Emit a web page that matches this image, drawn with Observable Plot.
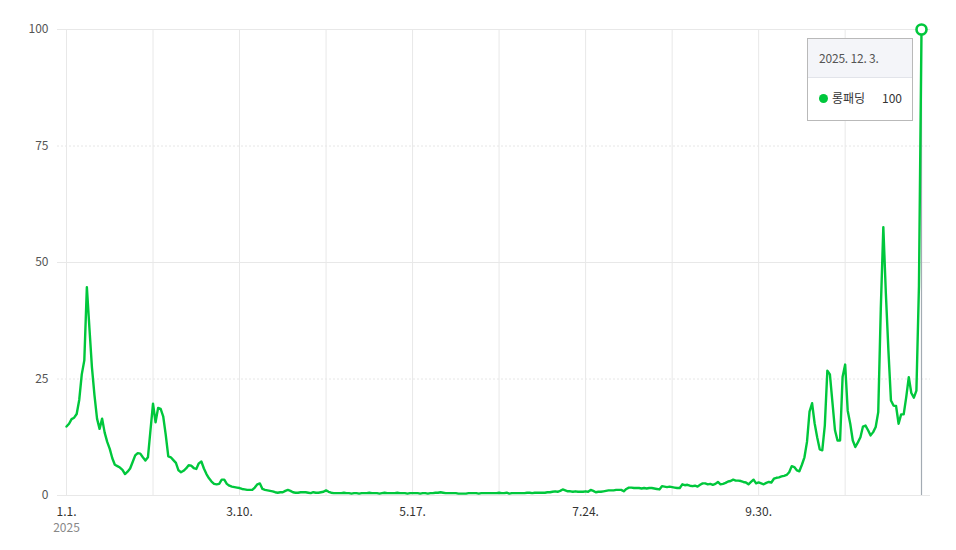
<!DOCTYPE html>
<html>
<head>
<meta charset="utf-8">
<script src="https://cdn.jsdelivr.net/npm/d3@7"></script>
<script src="https://cdn.jsdelivr.net/npm/@observablehq/plot@0.6"></script>
<style>
  html, body { margin: 0; padding: 0; background: #fff; }
  body { font-family: "Noto Sans CJK KR", "Noto Sans", sans-serif; }
  #wrap { position: relative; width: 956px; height: 550px; }
  #tip {
    position: absolute; left: 807px; top: 38px; width: 104px; height: 81px;
    border: 1px solid #b9b9b9; background: #fff; box-sizing: content-box;
    font-size: 12px; color: #333;
  }
  #tip .hd {
    height: 38px; background: #f4f5f9; border-bottom: 1px solid #e2e4ea;
    line-height: 38px; padding-left: 11px; color: #555; letter-spacing: -0.2px;
  }
  #tip .bd { position: relative; height: 42px; }
  #tip .dot { position: absolute; left: 11px; top: 16px; width: 9px; height: 9px; border-radius: 50%; }
  #tip .nm { position: absolute; left: 24px; top: 10px; line-height: 20px; }
  #tip .val { position: absolute; right: 10px; top: 10px; line-height: 20px; }
</style>
</head>
<body>
<div id="wrap"><div id="chart"></div>
  <div id="tip">
    <div class="hd" id="tipDate"></div>
    <div class="bd"><span class="dot" id="tipDot"></span><span class="nm" id="tipName"></span><span class="val" id="tipVal"></span></div>
  </div>
</div>
<script>
// ---- data ----
const seriesName = "롱패딩";
const startDate = "2025-01-01";
const lineColor = "#00c73c";

// daily values, Jan 1 .. Dec 3, 2025
const valuesJanFeb = [
  14.8, 15.4, 16.4, 16.7, 17.5, 20.5, 26, 29, 44.7, 36,
  27.5, 21.5, 16.5, 14.3, 16.5, 13.5, 11.5, 10, 8, 6.6,
  6.3, 6.0, 5.5, 4.6, 5.1, 5.8, 7.2, 8.6, 9.1, 9.0,
  8.2, 7.5, 8.2, 14, 19.7, 15.7, 18.8, 18.6, 17, 13,
  8.4, 8.2, 7.6, 7.0
];
const valuesFebApr = [
  5.4, 5.0, 5.3, 5.8, 6.5, 6.4, 5.9, 5.7, 6.9, 7.3,
  5.8, 4.6, 3.7, 3.0, 2.5, 2.4, 2.5, 3.4, 3.4, 2.5,
  2.1, 1.9, 1.8, 1.7, 1.6, 1.4, 1.3, 1.2, 1.2, 1.2,
  1.7, 2.4, 2.6, 1.4, 1.2, 1.1, 1.0, 0.9, 0.7, 0.6,
  0.7, 0.7, 1.0, 1.2, 1.0, 0.7, 0.6, 0.6
];
const valuesAprSep = [
  0.7, 0.7, 0.7, 0.6, 0.5, 0.7, 0.6, 0.6, 0.7, 0.8,
  1.1, 0.8, 0.6, 0.5, 0.5, 0.5, 0.5, 0.6, 0.5, 0.5,
  0.4, 0.5, 0.5, 0.4, 0.5, 0.5, 0.5, 0.6, 0.5, 0.5,
  0.5, 0.4, 0.5, 0.6, 0.5, 0.5, 0.5, 0.5, 0.6, 0.5,
  0.5, 0.5, 0.4, 0.5, 0.5, 0.5, 0.5, 0.4, 0.5, 0.5,
  0.4, 0.5, 0.5, 0.6, 0.6, 0.7, 0.6, 0.5, 0.5, 0.5,
  0.5, 0.5, 0.4, 0.4, 0.4, 0.4, 0.5, 0.5, 0.5, 0.5,
  0.4, 0.5, 0.5, 0.5, 0.5, 0.5, 0.5, 0.5, 0.6, 0.5,
  0.5, 0.6, 0.4, 0.5, 0.5, 0.5, 0.5, 0.5, 0.5, 0.6,
  0.6, 0.5, 0.6, 0.6, 0.6, 0.6, 0.6, 0.7, 0.7, 0.8,
  0.9, 0.8, 1.0, 1.3, 1.1, 0.9, 0.9, 0.8, 0.9, 0.8,
  0.8, 0.8, 0.9, 0.8, 1.2, 1.0, 0.7, 0.8, 0.8, 0.9,
  1.0, 1.1, 1.1, 1.1, 1.2, 1.2, 1.2, 0.9, 1.4, 1.7,
  1.7, 1.6, 1.6, 1.6, 1.5, 1.6, 1.5, 1.6, 1.6, 1.5,
  1.4, 1.3, 2.0, 1.9, 1.8, 1.9, 1.8, 1.7, 1.6, 1.6,
  2.4, 2.2, 2.3, 2.1, 2.0, 2.1, 1.9, 2.3, 2.6, 2.6,
  2.4, 2.5, 2.3, 2.5, 2.9, 2.4, 2.5, 2.7, 3.0, 3.1,
  3.4, 3.2
];
const valuesSepDec = [
  3.2, 3.1, 2.9, 2.8, 2.4, 2.9, 3.4, 2.6, 2.8, 2.6,
  2.4, 2.7, 2.9, 2.8, 3.6, 3.8, 3.9, 4.1, 4.2, 4.4,
  5.0, 6.3, 6.1, 5.4, 5.2, 6.6, 8.2, 11.5, 18, 19.8,
  15.5, 12.5, 9.9, 9.7, 15, 26.8, 26, 20, 14, 11.8,
  11.8, 25.5, 28.1, 18.2, 15.4, 11.8, 10.4, 11.4, 12.5, 14.8,
  15, 14, 12.9, 13.6, 14.7, 17.9, 40, 57.6, 43.3, 31.1,
  20.4, 19.3, 19.2, 15.4, 17.4, 17.4, 21.1, 25.4, 22, 21,
  22.5, 45, 100
];

// axis
const yTicks = [0, 25, 50, 75, 100];
const yDashed = [25, 75];
const ySolid = [0, 50, 100];
const gridDates = ["2025-01-01", "2025-02-04", "2025-03-10", "2025-04-13", "2025-05-17",
                   "2025-06-20", "2025-07-24", "2025-08-27", "2025-09-30", "2025-11-03"];
const labelDates = ["2025-01-01", "2025-03-10", "2025-05-17", "2025-07-24", "2025-09-30"];
const labelTexts = ["1.1.", "3.10.", "5.17.", "7.24.", "9.30."];
const yearLabel = "2025";
const tipDateText = "2025. 12. 3.";

// ---- build ----
const values = [...valuesJanFeb, ...valuesFebApr, ...valuesAprSep, ...valuesSepDec];
const t0 = new Date(startDate + "T00:00:00Z");
const data = values.map((v, i) => ({date: d3.utcDay.offset(t0, i), value: v}));
const last = data[data.length - 1];
const toD = s => new Date(s + "T00:00:00Z");
const labelMap = new Map(labelDates.map((s, i) => [+toD(s), labelTexts[i]]));

const chart = Plot.plot({
  width: 956,
  height: 550,
  marginLeft: 57,
  marginRight: 26,
  marginTop: 29,
  marginBottom: 55,
  style: {fontFamily: '"Noto Sans CJK KR", "Noto Sans", sans-serif', fontSize: "12px", background: "#fff"},
  x: {type: "utc", domain: [t0, last.date], insetLeft: 9, insetRight: 9},
  y: {domain: [0, 100]},
  marks: [
    Plot.ruleY(ySolid, {stroke: "#e8e8e8", strokeWidth: 1}),
    Plot.ruleY(yDashed, {stroke: "#e6e6e6", strokeWidth: 1, strokeDasharray: "2,2"}),
    Plot.ruleX(gridDates.map(toD), {y1: 0, y2: 100, stroke: "#e8e8e8", strokeWidth: 1}),
    Plot.axisY({ticks: yTicks, tickSize: 0, tickPadding: 9, label: null, fill: "#555", fontSize: 12}),
    Plot.axisX({ticks: labelDates.map(toD), tickFormat: d => labelMap.get(+d), tickSize: 0, tickPadding: 12, label: null, fill: "#333", fontSize: 12}),
    Plot.text([toD(labelDates[0])], {x: d => d, frameAnchor: "bottom", dy: 36, text: () => yearLabel, fill: "#888", fontSize: 12}),
    Plot.ruleX([last], {x: "date", y1: 0, y2: 100, stroke: "#a3abb3", strokeWidth: 1.2}),
    Plot.line(data, {x: "date", y: "value", stroke: lineColor, strokeWidth: 2.4, strokeLinejoin: "round"}),
    Plot.dot([last], {x: "date", y: "value", r: 5, fill: "#fff", stroke: lineColor, strokeWidth: 2.6})
  ]
});
document.getElementById("chart").appendChild(chart);

document.getElementById("tipDate").textContent = tipDateText;
document.getElementById("tipDot").style.background = lineColor;
document.getElementById("tipName").textContent = seriesName;
document.getElementById("tipVal").textContent = String(last.value);
</script>
</body>
</html>
